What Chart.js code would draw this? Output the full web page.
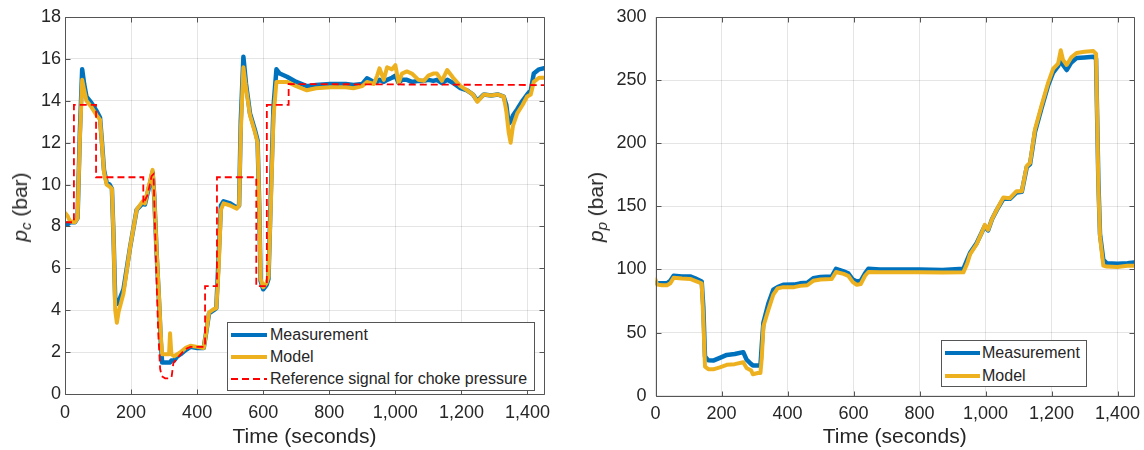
<!DOCTYPE html>
<html><head><meta charset="utf-8">
<script src="https://cdn.jsdelivr.net/npm/chart.js@4.4.1/dist/chart.umd.min.js"></script>
<style>
html,body{margin:0;padding:0;background:#fff;}
#wrap{position:relative;width:1144px;height:450px;font-family:"Liberation Sans",Arial,sans-serif;color:#262626;overflow:hidden;}
canvas{position:absolute;top:0;}
.ytitle{position:absolute;font-size:21px;white-space:nowrap;transform:translate(-50%,-50%) rotate(-90deg);line-height:1;}
.ytitle sub{font-size:15px;vertical-align:-4px;font-style:italic;}
.legend{position:absolute;background:#fff;border:1px solid #555;box-sizing:border-box;font-size:16px;}
.row{position:absolute;left:0;height:20px;margin-top:-10px;white-space:nowrap;}
.row svg{position:absolute;top:0;}
.row span{position:absolute;top:1px;line-height:18px;}
</style>
</head><body>
<div id="wrap">
  <canvas id="c1" width="560" height="450" style="left:0"></canvas>
  <canvas id="c2" width="574" height="450" style="left:570px"></canvas>
  <div class="ytitle" style="left:21px;top:207px;"><i>p</i><sub>c</sub> (bar)</div>
  <div class="ytitle" style="left:597px;top:207px;"><i>p</i><sub>p</sub> (bar)</div>
  <div class="legend" style="left:227px;top:322px;width:308px;height:69px;">
    <div class="row" style="top:12px;"><svg width="40" height="20" style="left:2px"><line x1="1" y1="10" x2="37" y2="10" stroke="#0072BD" stroke-width="4"/></svg><span style="left:42px">Measurement</span></div>
    <div class="row" style="top:34px;"><svg width="40" height="20" style="left:2px"><line x1="1" y1="10" x2="37" y2="10" stroke="#EDB120" stroke-width="4"/></svg><span style="left:42px">Model</span></div>
    <div class="row" style="top:56px;"><svg width="40" height="20" style="left:2px"><line x1="1" y1="10" x2="37" y2="10" stroke="#FF0000" stroke-width="1.8" stroke-dasharray="7,4"/></svg><span style="left:42px">Reference signal for choke pressure</span></div>
  </div>
  <div class="legend" style="left:941px;top:340px;width:146px;height:47px;">
    <div class="row" style="top:12px;"><svg width="40" height="20" style="left:2px"><line x1="1" y1="10" x2="36" y2="10" stroke="#0072BD" stroke-width="4"/></svg><span style="left:40px">Measurement</span></div>
    <div class="row" style="top:35px;"><svg width="40" height="20" style="left:2px"><line x1="1" y1="10" x2="36" y2="10" stroke="#EDB120" stroke-width="4"/></svg><span style="left:40px">Model</span></div>
  </div>
</div>
<script>
// ---- Left chart: choke pressure p_c ----
const pcTime  = [0,8,15,30,38,45,52,58,65,80,96,106,112,118,126,135,142,147,152,157,162,177,197,217,235,242,250,258,265,270,278,285,290,294,300,315,318,322,330,340,350,365,380,400,420,428,436,450,458,465,472,480,500,520,527,532,540,548,560,575,583,588,592,600,610,616,623,631,640,650,672,700,732,760,803,850,873,900,914,935,945,952,965,975,990,1000,1010,1020,1035,1050,1070,1086,1100,1115,1126,1141,1157,1175,1197,1217,1235,1248,1268,1290,1310,1328,1336,1343,1349,1356,1369,1385,1399,1410,1419,1435,1450];
const pcMeas  = [8.15,8.1,8.2,8.2,8.4,12.5,15.5,14.8,14.2,13.9,13.5,13.2,12.0,10.7,10.1,10.0,9.8,7.5,4.5,4.3,4.4,5.0,7.0,8.8,9.1,9.05,9.6,10.1,10.6,9.5,6.5,4.3,2.5,1.5,1.5,1.5,1.5,1.6,1.6,1.8,1.9,2.1,2.25,2.2,2.2,3.0,3.85,4.0,4.1,6.5,9.0,9.2,9.1,8.9,9.0,13.0,16.1,14.8,13.4,12.6,12.1,9.0,5.4,5.0,5.2,5.5,9.5,13.7,15.5,15.3,15.15,14.9,14.7,14.75,14.8,14.8,14.75,14.8,15.07,14.9,14.9,15.0,14.9,15.0,15.1,15.2,14.85,15.0,15.0,14.9,14.95,14.95,15.0,14.95,15.0,14.85,15.0,14.85,14.6,14.5,14.3,14.0,14.3,14.25,14.3,14.2,13.8,12.9,13.0,13.3,13.6,14.0,14.3,14.5,15.3,15.5,15.55];
const pcModel = [8.65,8.5,8.25,8.2,8.4,12.2,15.0,14.5,14.0,13.7,13.3,13.1,11.9,10.6,10.0,9.9,9.8,7.5,4.0,3.4,3.9,4.8,7.0,8.8,9.2,9.1,9.7,10.2,10.7,9.5,6.6,4.5,2.8,1.9,1.9,1.9,2.9,1.9,1.8,1.9,2.0,2.2,2.3,2.25,2.2,3.0,3.9,4.05,4.1,6.0,8.8,9.1,9.0,8.85,9.0,12.5,15.6,14.6,13.3,12.5,12.0,9.0,5.5,5.1,5.3,5.6,9.0,13.2,14.9,14.9,14.9,14.7,14.5,14.6,14.65,14.65,14.6,14.7,14.9,14.8,15.2,15.55,15.0,15.6,15.5,15.7,14.85,15.3,15.4,15.3,15.0,14.95,15.2,15.3,15.3,14.95,15.47,15.1,14.7,14.5,14.3,13.95,14.3,14.25,14.3,14.2,13.5,12.5,12.0,12.8,13.4,13.8,14.2,14.3,14.9,15.1,15.1];
const refTime  = [0,27,27,94,94,237,237,250,262,268,275,282,288,293,303,320,323,328,348,365,380,424,424,460,460,579,579,611,611,677,677,1450];
const refValue = [8.2,8.2,13.8,13.8,10.35,10.35,9.1,9.5,10.4,10.5,6.5,3.0,1.2,0.85,0.75,0.75,0.85,1.47,1.86,2.15,2.25,2.25,5.15,5.15,10.35,10.35,5.15,5.15,13.8,13.8,14.8,14.75];
const pcTicks = [0,2,4,6,8,10,12,14,16,18];

// ---- Right chart: pump pressure p_p ----
const ppTime  = [0,5,20,35,45,55,80,105,120,140,145,150,160,175,195,216,240,266,276,290,295,310,318,322,327,342,357,370,387,420,438,460,478,500,534,547,570,584,598,610,622,635,645,680,720,800,870,933,945,953,973,990,998,1008,1020,1034,1054,1074,1094,1110,1125,1135,1150,1170,1190,1205,1220,1228,1235,1246,1260,1276,1300,1327,1335,1342,1347,1357,1367,1400,1430,1450];
const ppMeas  = [89.5,89,89,89,91,95,94.5,94.5,93,90.5,70,31,28,27.8,30,32.3,33,34.5,28.5,25,24,24,24,40,58,73,84,86,87.8,88,89,89.5,93,94,94.4,100.5,98.5,97,92,90.4,91,97,100.5,100,100,100,99.5,100.5,108,113,120.8,130,134.5,131,140,147,156,156,161,161.5,181,183.5,209,228,246,256,261,268,262,258,264,267.5,268,268.5,267,170,128,107.6,105,104.5,105,105.5];
const ppModel = [92,88,87.5,87.5,89,93.5,92.8,92.5,91,89,60,23,21,20.9,22.5,24.5,25,26.5,22,20,17,18,18,30,55,68,80,85,86,86,87,87.5,91,92,92.5,98,96.5,95,90,87.8,88.5,95,98,97.7,97.7,97.7,97.5,97.7,105,112,120,130,135.4,131.4,140,147.3,157,156.5,162,162,182,184.5,211,230,248,259,263,273.6,266,262,268,271.5,272.5,273,271,166,126,103,102.3,102,103,103];
const ppTicks = [0,50,100,150,200,250,300];

const xTicks = [0,200,400,600,800,1000,1200,1400];
const xMax = 1450;

const FONT = '"Liberation Sans", Arial, sans-serif';
const TXT = '#262626';
const GRID = 'rgba(38,38,38,0.12)';
const BLUE = '#0072BD', GOLD = '#EDB120', RED = '#FF0000';

const pts = (xs, ys) => xs.map((x, i) => ({x, y: ys[i]}));

const boxPlugin = {
  id: 'box',
  afterDraw(chart) {
    const {ctx, chartArea: a, scales} = chart;
    const L = Math.round(a.left) + 0.5, R = Math.round(a.right) + 0.5;
    const T = Math.round(a.top) + 0.5, B = Math.round(a.bottom) + 0.5;
    ctx.save();
    ctx.strokeStyle = '#555';
    ctx.lineWidth = 1;
    ctx.beginPath();
    ctx.rect(L, T, R - L, B - T);
    scales.x.ticks.forEach(t => {
      const x = Math.round(scales.x.getPixelForValue(t.value)) + 0.5;
      ctx.moveTo(x, B); ctx.lineTo(x, B - 5);
      ctx.moveTo(x, T); ctx.lineTo(x, T + 5);
    });
    scales.y.ticks.forEach(t => {
      const y = Math.round(scales.y.getPixelForValue(t.value)) + 0.5;
      ctx.moveTo(L, y); ctx.lineTo(L + 5, y);
      ctx.moveTo(R, y); ctx.lineTo(R - 5, y);
    });
    ctx.stroke();
    ctx.restore();
  }
};

function makeChart(id, datasets, yTicks, yWidth, yPad, padRight, xHeight) {
  const yMax = yTicks[yTicks.length - 1];
  const yStep = yTicks[1] - yTicks[0];
  return new Chart(document.getElementById(id), {
    type: 'line',
    data: {datasets},
    options: {
      responsive: false,
      animation: false,
      events: [],
      layout: {padding: {left: 0, right: padRight, top: 17, bottom: 0}},
      plugins: {legend: {display: false}, tooltip: {enabled: false}},
      elements: {point: {radius: 0}, line: {tension: 0, borderJoinStyle: 'round', borderCapStyle: 'round'}},
      scales: {
        x: {
          type: 'linear', min: 0, max: xMax,
          afterBuildTicks: s => { s.ticks = xTicks.map(v => ({value: v})); },
          ticks: {font: {family: FONT, size: 18}, color: TXT, padding: 8, maxRotation: 0, autoSkip: false, includeBounds: false},
          grid: {color: GRID, drawTicks: false},
          border: {display: false},
          title: {display: true, text: 'Time (seconds)', font: {family: FONT, size: 21}, color: TXT, padding: {top: 0, bottom: 0}},
          afterFit: s => { s.height = xHeight; s.paddingLeft = 0; s.paddingRight = 0; }
        },
        y: {
          type: 'linear', min: 0, max: yMax,
          afterBuildTicks: s => { s.ticks = yTicks.map(v => ({value: v})); },
          ticks: {font: {family: FONT, size: 18}, color: TXT, padding: yPad, stepSize: yStep},
          grid: {color: GRID, drawTicks: false},
          border: {display: false},
          afterFit: s => { s.width = yWidth; s.paddingTop = 0; s.paddingBottom = 0; }
        }
      }
    },
    plugins: [boxPlugin]
  });
}

makeChart('c1', [
  {label: 'Reference signal for choke pressure', data: pts(refTime, refValue), borderColor: RED, borderWidth: 1.8, borderDash: [7, 4], borderCapStyle: 'butt', borderJoinStyle: 'miter'},
  {label: 'Model', data: pts(pcTime, pcModel), borderColor: GOLD, borderWidth: 4},
  {label: 'Measurement', data: pts(pcTime, pcMeas), borderColor: BLUE, borderWidth: 4.5}
], pcTicks, 65, 4, 16, 56);

makeChart('c2', [
  {label: 'Model', data: pts(ppTime, ppModel), borderColor: GOLD, borderWidth: 4},
  {label: 'Measurement', data: pts(ppTime, ppMeas), borderColor: BLUE, borderWidth: 4.5}
], ppTicks, 85.5, 9, 10, 54.3);
</script>
</body></html>
